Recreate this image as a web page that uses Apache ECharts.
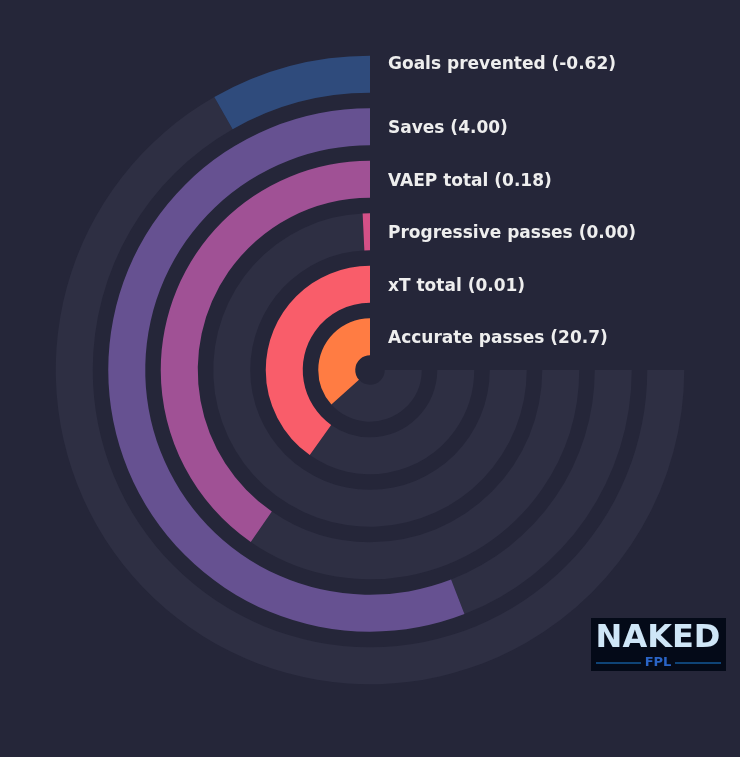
<!DOCTYPE html>
<html>
<head>
<meta charset="utf-8">
<script src="https://cdn.jsdelivr.net/npm/echarts@6/dist/echarts.min.js"></script>
<style>
  html, body { margin: 0; padding: 0; background: #252639; }
  #chart { width: 740px; height: 757px; }
</style>
</head>
<body>
<div id="chart"></div>
<script>
// Data (inner ring first)
const metrics = ['Accurate passes', 'xT total', 'Progressive passes', 'VAEP total', 'Saves', 'Goals prevented'];
const valueLabels = ['20.7', '0.01', '0.00', '0.18', '4.00', '-0.62'];
const percentiles = [48.8, 53.6, 1, 53.8, 74.5, 11];
const fullScale = 100;

const palette = ['#ff7c43', '#f95d6a', '#d45087', '#a05195', '#665191', '#2f4b7c'];
const bg = '#252639';
const track = '#2e2f43';

const chart = echarts.init(document.getElementById('chart'), null, { renderer: 'canvas' });

const labelFont = {
  color: '#eeeeee',
  fontFamily: 'DejaVu Sans',
  fontWeight: 'bold',
  fontSize: 17
};

chart.setOption({
  backgroundColor: bg,
  animation: false,
  polar: {
    center: [370, 370],
    radius: [7, 322]
  },
  angleAxis: {
    type: 'value',
    min: 0,
    max: fullScale * 360 / 270,
    startAngle: 90,
    clockwise: false,
    axisLine: { show: false },
    axisTick: { show: false },
    axisLabel: { show: false },
    splitLine: { show: false }
  },
  radiusAxis: {
    type: 'category',
    data: metrics,
    z: 10,
    axisLine: { show: false },
    axisTick: { show: false },
    splitLine: { show: false },
    axisLabel: Object.assign({
      interval: 0,
      hideOverlap: false,
      margin: -18,
      align: 'left',
      verticalAlign: 'middle',
      formatter: function (val, idx) {
        const t = val + ' (' + valueLabels[idx] + ')';
        return idx === metrics.length - 1 ? '{up|' + t + '}' : '{n|' + t + '}';
      },
      rich: {
        n: Object.assign({ padding: [4, 0, 0, 0] }, labelFont),
        up: Object.assign({ padding: [4, 0, 24, 0] }, labelFont)
      }
    }, labelFont)
  },
  series: [
    {
      name: 'value',
      type: 'bar',
      coordinateSystem: 'polar',
      stack: 'ring',
      barWidth: 37,
      z: 2,
      data: percentiles.map(function (v, i) {
        return { value: v, itemStyle: { color: palette[i] } };
      })
    },
    {
      name: 'track',
      type: 'bar',
      coordinateSystem: 'polar',
      stack: 'ring',
      barWidth: 37,
      silent: true,
      z: 1,
      itemStyle: { color: track },
      data: percentiles.map(function (v) { return fullScale - v; })
    }
  ],
  graphic: [
    {
      type: 'group',
      left: 591,
      top: 618,
      children: [
        { type: 'rect', shape: { x: 0, y: 0, width: 135, height: 53 }, style: { fill: '#040a18' } },
        { type: 'text', x: 67, y: 21, style: { text: 'NAKED', fill: '#cfe6f7', font: 'bold 32px "DejaVu Sans"', align: 'center', verticalAlign: 'middle' } },
        { type: 'line', shape: { x1: 5, y1: 45, x2: 50, y2: 45 }, style: { stroke: '#1a7fd6', lineWidth: 1 } },
        { type: 'line', shape: { x1: 84, y1: 45, x2: 130, y2: 45 }, style: { stroke: '#1a7fd6', lineWidth: 1 } },
        { type: 'text', x: 67, y: 45, style: { text: 'FPL', fill: '#2a64c6', font: 'bold 13px "DejaVu Sans"', align: 'center', verticalAlign: 'middle' } }
      ]
    }
  ]
});
</script>
</body>
</html>
